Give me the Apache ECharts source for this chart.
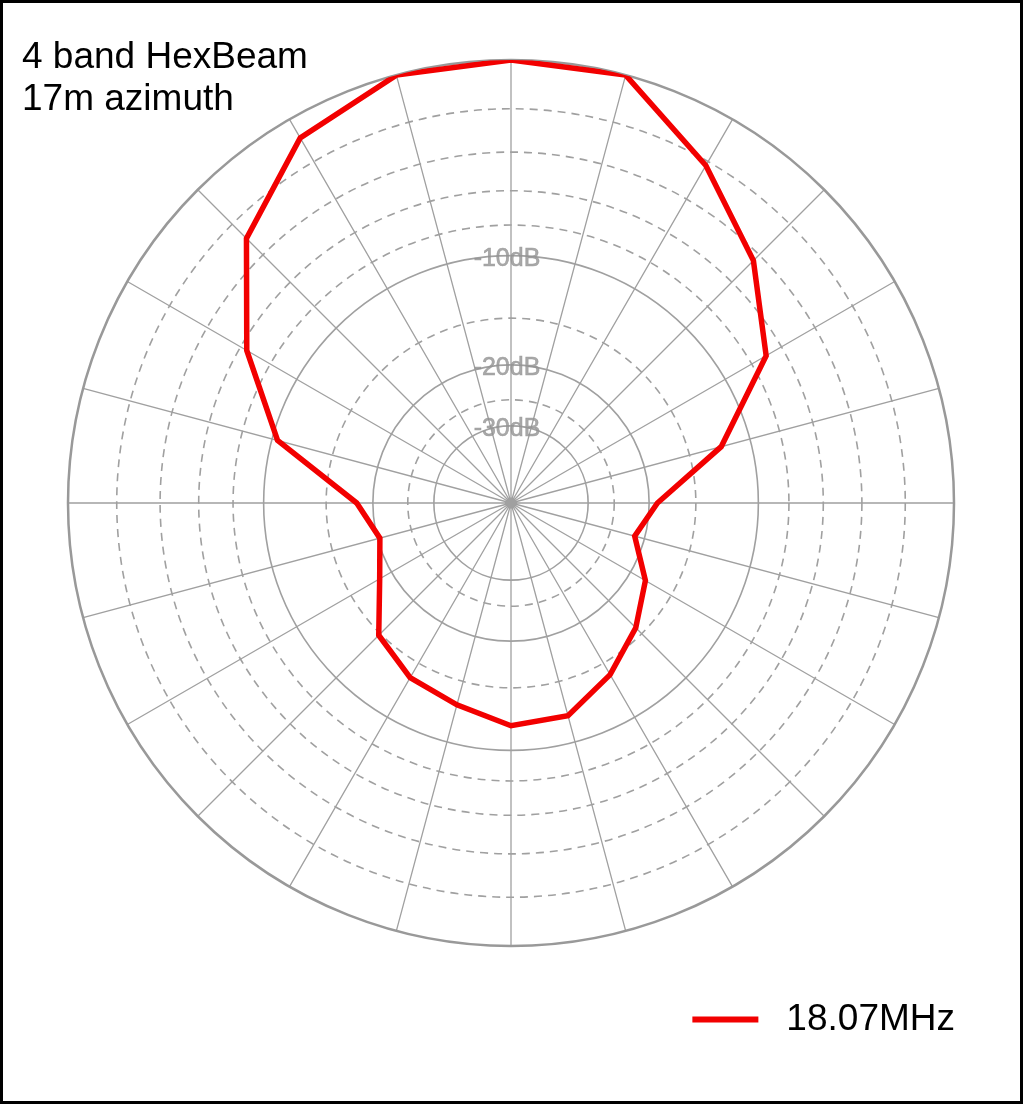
<!DOCTYPE html>
<html>
<head>
<meta charset="utf-8">
<script src="https://cdn.jsdelivr.net/npm/echarts@6/dist/echarts.min.js"></script>
<style>
  html, body { margin: 0; padding: 0; background: #fff; }
  #chart { width: 1023px; height: 1104px; box-sizing: border-box; border: 3px solid #000; }
</style>
</head>
<body>
<div id="chart"></div>
<script>
// azimuth (deg) and gain (dB)
let angles = [0, 15, 30, 45, 60, 75, 90, 105, 120, 135, 150, 165, 180, 195, 210, 225, 240, 255, 270, 285, 300, 315, 330, 345]
let gainDb = [0, 0, -2.2, -4.4, -7.0, -12.2, -19.0, -21.3, -18.0, -15.8, -13.8, -12.0, -11.8, -12.9, -13.5, -14.8, -18.4, -20.3, -18.1, -10.4, -6.4, -2.9, -0.85, 0]
let solidRings = [-10, -20, -30]
let dashedRings = [-2, -4, -6, -8, -15, -25]
let ringLabels = ['-10dB', '-20dB', '-30dB']
let seriesName = '18.07MHz'

// ARRL log scale: 0.89 per 2 dB
function toR(db) {
  return Math.pow(0.89, -db / 2)
}

let center = [508, 500]
let R = 443
let font = "'Liberation Sans', Arial, sans-serif"

let polar = [{center: center, radius: R}]
let angleAxis = [{
  polarIndex: 0, type: 'value', min: 0, max: 360, interval: 15, startAngle: 90,
  axisLine: {show: true, lineStyle: {color: '#999', width: 2.5}},
  axisTick: {show: false},
  axisLabel: {show: false},
  splitLine: {show: true, lineStyle: {color: '#a0a0a0', width: 1.3}}
}]
let radiusAxis = [{polarIndex: 0, type: 'value', min: 0, max: 1, show: false}]

// each ring is its own polar whose angle axis line draws the circle
let rings = solidRings.map(function (d) { return {db: d, type: 'solid'} })
  .concat(dashedRings.map(function (d) { return {db: d, type: [8, 6]} }))
rings.forEach(function (ring, i) {
  polar.push({center: center, radius: R * toR(ring.db)})
  angleAxis.push({
    polarIndex: i + 1, type: 'value', min: 0, max: 360, startAngle: 90,
    axisLine: {show: true, lineStyle: {color: '#a0a0a0', width: 1.6, type: ring.type}},
    axisTick: {show: false}, axisLabel: {show: false}, splitLine: {show: false}
  })
  radiusAxis.push({polarIndex: i + 1, type: 'value', min: 0, max: 1, show: false})
})

let lineData = angles.map(function (a, i) { return [toR(gainDb[i]), a] })
lineData.push([toR(gainDb[0]), 360])

let chart = echarts.init(document.getElementById('chart'))
chart.setOption({
  animation: false,
  title: {
    text: '4 band HexBeam\n17m azimuth',
    left: 14, top: 29,
    textStyle: {color: '#000', fontSize: 37, fontWeight: 'normal', fontFamily: font, lineHeight: 42}
  },
  legend: {
    data: [seriesName],
    right: 60, top: 993,
    icon: 'rect', itemWidth: 66, itemHeight: 6,
    textStyle: {color: '#000', fontSize: 37, fontFamily: font, padding: [0, 0, 0, 23]}
  },
  polar: polar,
  angleAxis: angleAxis,
  radiusAxis: radiusAxis,
  series: [
    {
      type: 'scatter',
      coordinateSystem: 'polar',
      polarIndex: 0,
      symbolSize: 2,
      itemStyle: {color: 'rgba(0,0,0,0)'},
      silent: true,
      z: 3,
      label: {
        show: true, position: 'inside', offset: [-4, 3],
        color: '#939393', fontSize: 25, fontFamily: font,
        textBorderColor: '#939393', textBorderWidth: 0.6,
        formatter: function (p) { return ringLabels[p.dataIndex] }
      },
      data: solidRings.map(function (d) { return [toR(d), 0] })
    },
    {
      name: seriesName,
      type: 'line',
      coordinateSystem: 'polar',
      polarIndex: 0,
      showSymbol: false,
      z: 5,
      lineStyle: {color: '#f20000', width: 5.5, join: 'miter'},
      itemStyle: {color: '#f20000'},
      data: lineData
    }
  ]
})
</script>
</body>
</html>
